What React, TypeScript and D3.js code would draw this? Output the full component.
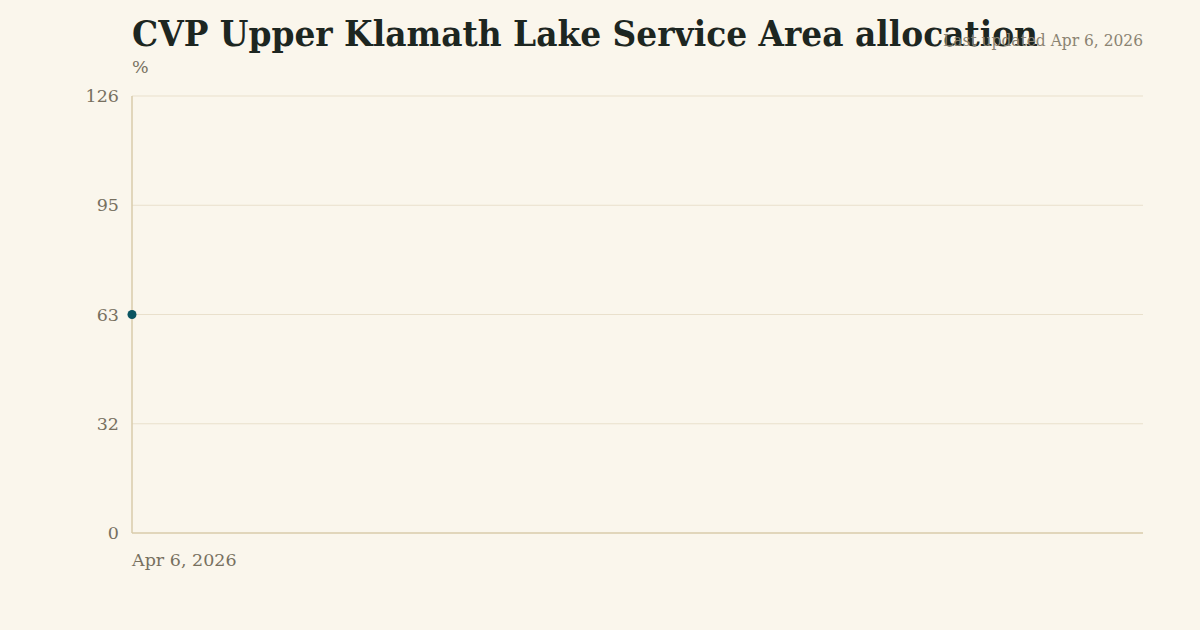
import React from "react";
import * as d3 from "d3";

const title = "CVP Upper Klamath Lake Service Area allocation";
const updatedLabel = "Last updated Apr 6, 2026";
const unitLabel = "%";
const dates = ["2026-04-06"];
const values = [63];
const yMax = 126;
const yTickValues = [0, 31.5, 63, 94.5, 126];
const xTickLabels = ["Apr 6, 2026"];

const W = 1200;
const H = 630;
const M = { left: 132, right: 1143, top: 96, bottom: 533 };
const FONT = "Georgia, 'DejaVu Serif', 'Liberation Serif', serif";

export default function App() {
  const parse = d3.timeParse("%Y-%m-%d");
  const parsed = dates.map((d) => parse(d) as Date);
  const x = d3
    .scaleTime()
    .domain([parsed[0], d3.timeDay.offset(parsed[0], 30)])
    .range([M.left, M.right]);
  const y = d3.scaleLinear().domain([0, yMax]).range([M.bottom, M.top]);

  return (
    <div style={{ position: "fixed", left: 0, top: 0, width: W, height: H, background: "#faf6ec" }}>
      <svg width={W} height={H} style={{ display: "block" }} fontFamily={FONT}>
        <rect x={0} y={0} width={W} height={H} fill="#faf6ec" />
        {yTickValues.map((t, i) => (
          <g key={i}>
            {t > 0 && (
              <line x1={M.left} x2={M.right} y1={y(t)} y2={y(t)} stroke="#e9e0cc" strokeWidth={1} />
            )}
            <text x={119} y={y(t)} dy="0.35em" textAnchor="end" fontSize={17.5} fill="#77705f">
              {Math.round(t)}
            </text>
          </g>
        ))}
        <line x1={M.left} x2={M.left} y1={M.top} y2={M.bottom} stroke="#d8cbab" strokeWidth={1.5} />
        <line x1={M.left} x2={M.right} y1={M.bottom} y2={M.bottom} stroke="#d8cbab" strokeWidth={1.5} />
        {values.map((v, i) => (
          <circle key={i} cx={x(parsed[i])} cy={y(v)} r={4.5} fill="#0b5562" />
        ))}
        {xTickLabels.map((l, i) => (
          <text key={i} x={x(parsed[i])} y={566} textAnchor="start" fontSize={17.5} fill="#77705f">
            {l}
          </text>
        ))}
        <text x={132} y={73} fontSize={17.5} fill="#77705f">{unitLabel}</text>
        <text x={132} y={46} fontSize={36} fontWeight="bold" fill="#1d2621" textLength={906} lengthAdjust="spacingAndGlyphs">{title}</text>
        <text x={1143} y={46} textAnchor="end" fontSize={16} fill="#8a8372" textLength={200} lengthAdjust="spacingAndGlyphs">{updatedLabel}</text>
      </svg>
    </div>
  );
}
